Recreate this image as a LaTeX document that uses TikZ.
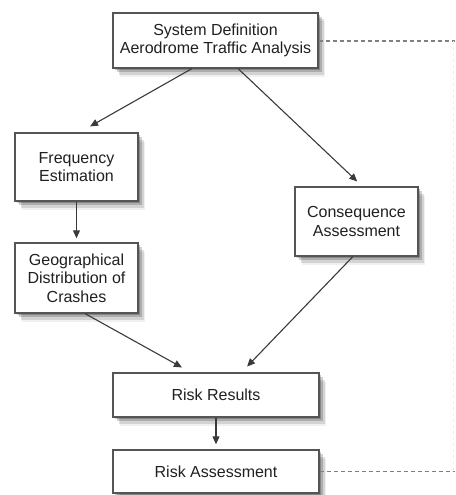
\documentclass[tikz,border=0pt]{standalone}
\usepackage{fontspec}
\setmainfont{Liberation Sans}
\usetikzlibrary{shadows,calc,arrows.meta}
\definecolor{boxline}{HTML}{555555}
\definecolor{arrline}{HTML}{3A3A3A}
\definecolor{txt}{HTML}{202020}
\definecolor{dashc}{HTML}{808080}
\tikzset{
  softshadow/.style={
    drop shadow={shadow xshift=1.5pt, shadow yshift=-2pt, opacity=0.22, fill=black},
    drop shadow={shadow xshift=3.5pt, shadow yshift=-4pt, opacity=0.18, fill=black},
    drop shadow={shadow xshift=5.5pt, shadow yshift=-6.5pt, opacity=0.12, fill=black},
    drop shadow={shadow xshift=7pt, shadow yshift=-8.5pt, opacity=0.06, fill=black}},
  stepbox/.style={draw=boxline, line width=1.4pt, fill=white, softshadow,
    align=center, inner sep=0pt, text=txt,
    font=\fontsize{16}{18.5}\selectfont},
  flow/.style={draw=arrline, line width=1.1pt, -{Triangle[length=8pt,width=7pt]}},
  dashlink/.style={draw=dashc, line width=1.3pt, dash pattern=on 4pt off 3pt},
  faintlink/.style={draw=black!7, line width=1pt, dash pattern=on 3pt off 3pt}
}
\begin{document}
\begin{tikzpicture}[x=1pt,y=-1pt]
\useasboundingbox (0,0) rectangle (455,495);
\node[stepbox, minimum width=205pt, minimum height=55pt] (top) at (215.5,40.5) {System Definition\\Aerodrome Traffic Analysis};
\node[stepbox, minimum width=123pt, minimum height=68pt] (freq) at (76.5,167) {Frequency\\Estimation};
\node[stepbox, minimum width=123pt, minimum height=70pt] (geo) at (76.5,278) {Geographical\\Distribution of\\Crashes};
\node[stepbox, minimum width=123pt, minimum height=69pt] (cons) at (356.5,221.5) {Consequence\\Assessment};
\node[stepbox, minimum width=206pt, minimum height=44pt] (rr) at (216,395) {Risk Results};
\node[stepbox, minimum width=206pt, minimum height=43pt] (ra) at (216,471.5) {Risk Assessment};

\coordinate (dtop) at (455,41);
\coordinate (dbot) at (455,471.5);

\draw[flow, shorten >=12pt] ($(top.south west)!0.385!(top.south east)$) -- ($(freq.north west)!0.525!(freq.north east)$);
\draw[flow, shorten >=7pt] ($(top.south west)!0.61!(top.south east)$) -- ($(cons.north west)!0.547!(cons.north east)$);
\draw[flow, shorten >=4pt] (freq.south) -- (geo.north);
\draw[flow, shorten >=10pt] ($(geo.south west)!0.57!(geo.south east)$) -- ($(rr.north west)!0.378!(rr.north east)$);
\draw[flow, shorten >=8pt] ($(cons.south west)!0.47!(cons.south east)$) -- ($(rr.north west)!0.623!(rr.north east)$);
\draw[flow, shorten >=5pt] (rr.south) -- (ra.north);

\draw[dashlink] (top.east |- dtop) -- (dtop);
\draw[dashlink] (ra.east |- dbot) -- (dbot);
\draw[faintlink] ($(dtop)+(-1.5,0)$) -- ($(dbot)+(-1.5,0)$);
\end{tikzpicture}
\end{document}
